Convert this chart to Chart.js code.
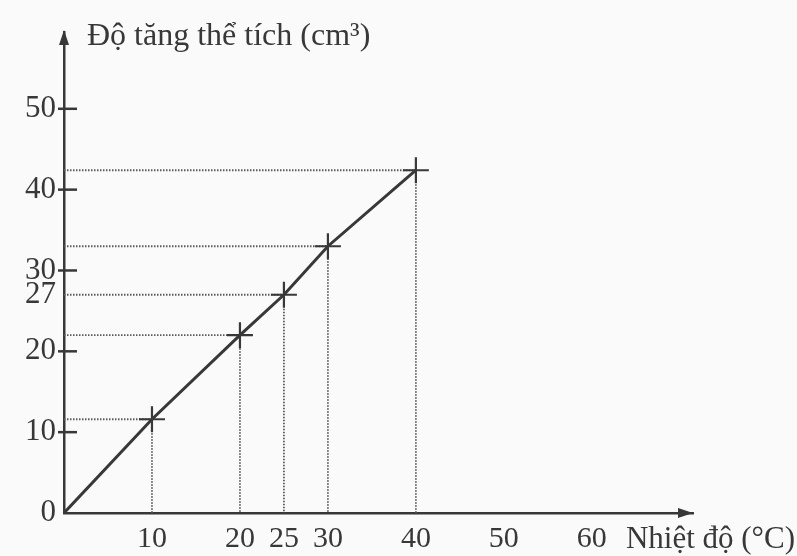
<!DOCTYPE html>
<html>
<head>
<meta charset="utf-8">
<script src="https://cdn.jsdelivr.net/npm/chart.js@4"></script>
<style>
  html, body { margin: 0; padding: 0; background: #fafafa; }
  canvas { display: block; }
</style>
</head>
<body>
<canvas id="volChart" width="797" height="556"></canvas>
<script>
const temps = [0, 10, 20, 25, 30, 40];
const volumes = [0, 11.6, 22, 27, 33, 42.4];
const xTicks = [10, 20, 25, 30, 40, 50, 60];
const yTicks = [0, 10, 20, 27, 30, 40, 50];
const yNoMark = [0, 27];   // label only, no tick dash
const xTitle = "Nhiệt độ (°C)";
const yTitle = "Độ tăng thể tích (cm³)";

const ink = "#383838";
const font = "'Liberation Serif', 'DejaVu Serif', serif";

// dotted guides from each point to both axes
const guides = [];
for (let i = 1; i < temps.length; i++) {
    guides.push({
        data: [{x: 0, y: volumes[i]}, {x: temps[i], y: volumes[i]}, {x: temps[i], y: 0}],
        borderColor: "#5a5a5a",
        borderWidth: 1.8,
        borderDash: [1.5, 1.5],
        pointRadius: 0,
        fill: false
    });
}

const axisDecor = {
    id: "axisDecor",
    afterDraw(chart) {
        const ctx = chart.ctx;
        const {left, top, right, bottom} = chart.chartArea;
        const ys = chart.scales.y;
        ctx.save();
        ctx.strokeStyle = ink;
        ctx.fillStyle = ink;
        ctx.lineWidth = 2.5;
        // tick dashes crossing the y axis
        yTicks.forEach(v => {
            if (yNoMark.includes(v)) return;
            const py = ys.getPixelForValue(v);
            ctx.beginPath();
            ctx.moveTo(left - 6, py);
            ctx.lineTo(left + 13, py);
            ctx.stroke();
        });
        // arrow heads
        ctx.beginPath();
        ctx.moveTo(left, top - 2);
        ctx.lineTo(left - 5, top + 13);
        ctx.lineTo(left + 5, top + 13);
        ctx.closePath();
        ctx.fill();
        ctx.beginPath();
        ctx.moveTo(right, bottom);
        ctx.lineTo(right - 15, bottom - 5);
        ctx.lineTo(right - 15, bottom + 5);
        ctx.closePath();
        ctx.fill();
        // axis titles
        ctx.textBaseline = "alphabetic";
        ctx.textAlign = "left";
        ctx.font = "32px " + font;
        ctx.fillText(yTitle, left + 23, top + 13);
        ctx.textAlign = "right";
        ctx.font = "31px " + font;
        ctx.fillText(xTitle, 795, bottom + 35);
        ctx.restore();
    }
};

new Chart(document.getElementById("volChart"), {
    type: "line",
    data: {
        datasets: [
            {
                data: temps.map((t, i) => ({x: t, y: volumes[i]})),
                borderColor: ink,
                borderWidth: 3,
                pointStyle: "cross",
                pointRadius: ctx => ctx.dataIndex === 0 ? 0 : 13,
                pointBorderWidth: 2.2,
                pointBorderColor: ink,
                fill: false
            },
            ...guides
        ]
    },
    options: {
        responsive: false,
        animation: false,
        layout: { padding: { top: 32, right: 104, left: 0, bottom: 0 } },
        plugins: {
            legend: { display: false },
            tooltip: { enabled: false }
        },
        scales: {
            x: {
                type: "linear",
                min: 0,
                max: 71.5,
                afterBuildTicks: s => { s.ticks = xTicks.map(v => ({value: v})); },
                afterFit: s => { s.height = 43; },
                grid: { display: false, drawTicks: false },
                border: { display: true, color: ink, width: 2.5 },
                ticks: { color: ink, font: { family: font, size: 30 }, padding: 8, maxRotation: 0 }
            },
            y: {
                type: "linear",
                min: 0,
                max: 59.5,
                afterBuildTicks: s => { s.ticks = yTicks.map(v => ({value: v})); },
                afterFit: s => { s.width = 64; },
                grid: { display: false, drawTicks: false },
                border: { display: true, color: ink, width: 2.5 },
                ticks: { color: ink, font: { family: font, size: 31 }, padding: 8 }
            }
        }
    },
    plugins: [axisDecor]
});
</script>
</body>
</html>
